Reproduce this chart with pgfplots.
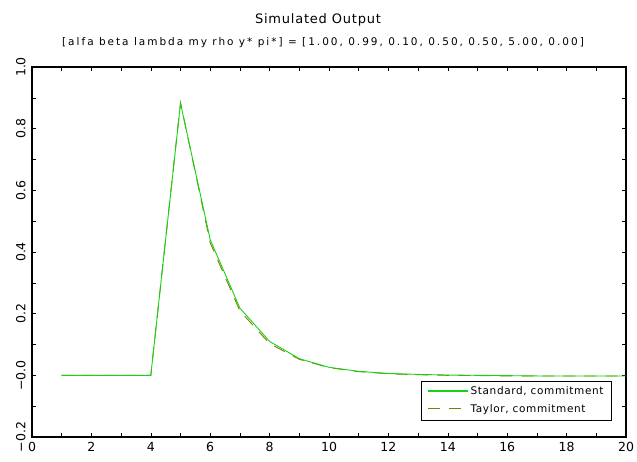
\documentclass[border=0pt]{standalone}
\usepackage{fontspec}
\setmainfont{DejaVu Sans}
\usepackage{pgfplots}
\pgfplotsset{compat=1.18}
\definecolor{stdgreen}{RGB}{20,210,20}
\definecolor{tayolive}{RGB}{130,125,0}
\begin{document}
\begin{tikzpicture}[x=1pt,y=1pt]
\useasboundingbox (0,0) rectangle (637,461);
\node[font=\fontsize{13}{15}\selectfont\addfontfeature{LetterSpace=6}] at (318,441) {Simulated Output};
\node[font=\fontsize{10.5}{12}\selectfont\addfontfeature{LetterSpace=19}] at (323,418) {[alfa beta lambda my rho y* pi*] = [1.00, 0.99, 0.10, 0.50, 0.50, 5.00, 0.00]};
\begin{axis}[
  at={(32pt,24pt)}, anchor=south west,
  width=594pt, height=370pt, scale only axis,
  xmin=0, xmax=20, ymin=-0.2, ymax=1.0,
  xtick={0,2,4,6,8,10,12,14,16,18,20},
  xticklabels={0,2,4,6,8,10,12,14,16,18,20},
  minor xtick={1,3,5,7,9,11,13,15,17,19},
  ytick={-0.2,0,0.2,0.4,0.6,0.8,1.0},
  yticklabels={−0.2,−0.0,0.2,0.4,0.6,0.8,1.0},
  minor ytick={-0.1,0.1,0.3,0.5,0.7,0.9},
  tick align=inside,
  major tick length=4pt, minor tick length=4pt,
  tick style={black, line width=0.6pt},
  axis line style={line width=1.5pt},
  ticklabel style={font=\fontsize{12.5}{14}\selectfont},
  yticklabel style={rotate=90, anchor=south},
  yticklabel shift=3pt,
  xticklabel shift=2pt,
  legend cell align=left,
  legend style={at={(0.976,0.046)}, anchor=south east,
    font=\fontsize{10.5}{12}\selectfont\addfontfeature{LetterSpace=6},
    inner xsep=6pt, inner ysep=4pt, row sep=4pt},
  legend image code/.code={\draw[#1] (0pt,0.5pt) -- (40pt,0.5pt);},
]
\addplot[tayolive, line width=0.9pt, dash pattern=on 12pt off 9pt, forget plot] coordinates
  {(1,0)(2,0)(3,0)(4,0)(5,0.884)(6,0.43)(7,0.209)(8,0.103)(9,0.052)(10,0.025)
   (11,0.012)(12,0.005)(13,0.002)(14,0.0)(15,-0.001)(16,-0.002)(17,-0.002)(18,-0.002)(19,-0.002)(20,-0.002)};
\addplot[stdgreen, line width=0.9pt, forget plot] coordinates
  {(1,0)(2,0)(3,0)(4,0)(5,0.882)(6,0.44)(7,0.218)(8,0.110)(9,0.054)(10,0.026)
   (11,0.013)(12,0.006)(13,0.003)(14,0.001)(15,0.0)(16,-0.001)(17,-0.002)(18,-0.002)(19,-0.002)(20,-0.002)};
\addlegendimage{draw=stdgreen, line width=1.4pt}
\addlegendentry{Standard, commitment}
\addlegendimage{draw=tayolive, line width=1.1pt, dash pattern=on 12pt off 9pt}
\addlegendentry{Taylor, commitment}
\end{axis}
\end{tikzpicture}
\end{document}
